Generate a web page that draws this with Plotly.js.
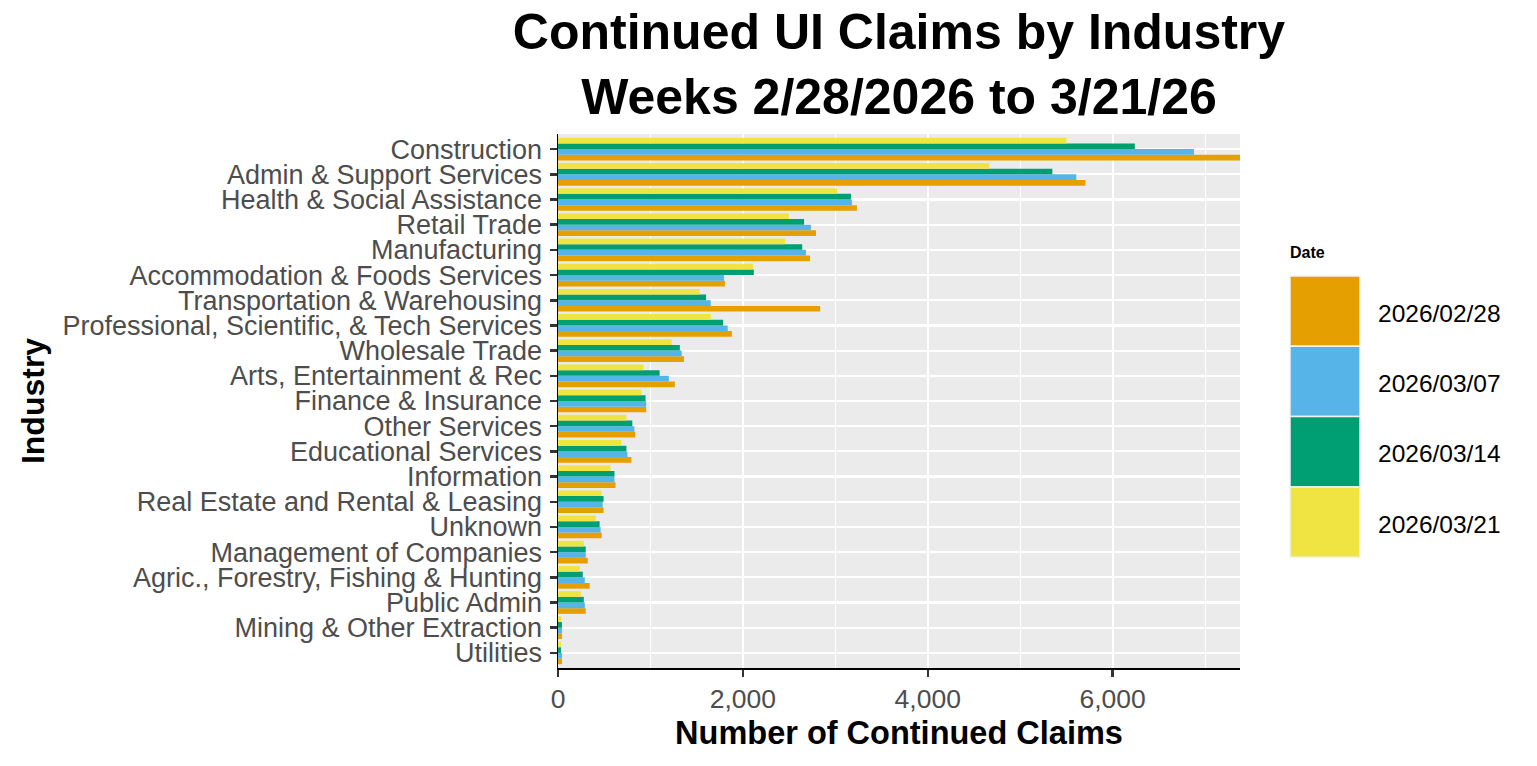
<!DOCTYPE html>
<html>
<head>
<meta charset="utf-8">
<script src="https://cdn.plot.ly/plotly-3.0.1.min.js"></script>
<style>
  html, body { margin: 0; padding: 0; background: #ffffff; }
  #chart { width: 1537px; height: 766px; }
</style>
</head>
<body>
<div id="chart"></div>
<script>
// Industries, listed top to bottom as in the chart
const industries = [
  "Construction",
  "Admin & Support Services",
  "Health & Social Assistance",
  "Retail Trade",
  "Manufacturing",
  "Accommodation & Foods Services",
  "Transportation & Warehousing",
  "Professional, Scientific, & Tech Services",
  "Wholesale Trade",
  "Arts, Entertainment & Rec",
  "Finance & Insurance",
  "Other Services",
  "Educational Services",
  "Information",
  "Real Estate and Rental & Leasing",
  "Unknown",
  "Management of Companies",
  "Agric., Forestry, Fishing & Hunting",
  "Public Admin",
  "Mining & Other Extraction",
  "Utilities"
];

const weeks = ["2026/02/28", "2026/03/07", "2026/03/14", "2026/03/21"];
const weekColors = ["#E69F00", "#56B4E9", "#009E73", "#F0E442"];

const claims_0228 = [7378, 5706, 3234, 2791, 2726, 1806, 2836, 1881, 1363, 1264, 954, 836, 794, 622, 493, 472, 322, 343, 300, 43, 43];
const claims_0307 = [6880, 5607, 3179, 2736, 2682, 1796, 1652, 1836, 1338, 1199, 954, 826, 751, 611, 483, 461, 300, 290, 290, 43, 43];
const claims_0314 = [6240, 5348, 3169, 2662, 2642, 2119, 1602, 1786, 1318, 1099, 947, 804, 740, 611, 493, 450, 300, 268, 279, 43, 32];
const claims_0321 = [5500, 4667, 3020, 2497, 2458, 2109, 1532, 1652, 1229, 925, 903, 740, 686, 568, 472, 407, 279, 236, 247, 32, 32];

const xTickVals = [0, 2000, 4000, 6000];

const seriesValues = [claims_0228, claims_0307, claims_0314, claims_0321];

const FONT = "Liberation Sans, Arial, sans-serif";

const traces = weeks.map((w, i) => ({
  type: "bar",
  orientation: "h",
  name: w,
  x: seriesValues[i],
  y: industries,
  marker: { color: weekColors[i], line: { width: 0 } },
  showlegend: false,
  hoverinfo: "x+y+name"
}));

const maxVal = Math.max(...seriesValues.flat());

// Custom ggplot-style legend (large square keys)
const plotTop = 134, plotBottom = 668;
const ph = plotBottom - plotTop;
const pw = 1240 - 558;
const keyX0 = (1290 - 558) / pw, keyX1 = (1360 - 558) / pw;
const keyH = 70.3 / ph;
const keyTop = (plotBottom - 276) / ph;
const shapes = [];
const annotations = [];
weeks.forEach((w, i) => {
  const y1 = keyTop - i * keyH;
  const y0 = y1 - keyH;
  shapes.push({
    type: "rect", xref: "paper", yref: "paper",
    x0: keyX0, x1: keyX1, y0: y0, y1: y1,
    fillcolor: weekColors[i], line: { color: "#F2F2F2", width: 1.5 }
  });
  annotations.push({
    xref: "paper", yref: "paper",
    x: (1376 - 558) / pw, y: (y0 + y1) / 2 - 2 / ph,
    xanchor: "left", yanchor: "middle",
    text: w, showarrow: false,
    font: { family: FONT, size: 24.5, color: "#000000" }
  });
});
annotations.push({
  xref: "paper", yref: "paper",
  x: keyX0 - 2 / pw, y: (plotBottom - 252) / ph,
  xanchor: "left", yanchor: "middle",
  text: "<b>Date</b>", showarrow: false,
  font: { family: FONT, size: 16, color: "#000000" }
});

const layout = {
  width: 1537,
  height: 766,
  margin: { l: 558, r: 297, t: 134, b: 98, pad: 0 },
  paper_bgcolor: "#FFFFFF",
  plot_bgcolor: "#EBEBEB",
  barmode: "group",
  bargap: 0.1,
  bargroupgap: 0,
  showlegend: false,
  title: {
    text: "<b>Continued UI Claims by Industry<br>Weeks 2/28/2026 to 3/21/26</b>",
    font: { family: FONT, size: 50, color: "#000000" },
    x: 0.5, xref: "paper", xanchor: "center",
    y: 0.936, yref: "container", yanchor: "top"
  },
  xaxis: {
    range: [0, maxVal],
    tickmode: "array",
    tickvals: xTickVals,
    tickformat: ",",
    tickfont: { family: FONT, size: 26.5, color: "#4D4D4D" },
    ticks: "outside", ticklen: 7, tickwidth: 2.5, tickcolor: "#333333",
    showline: true, linecolor: "#000000", linewidth: 1.5,
    showgrid: true, gridcolor: "#FFFFFF", gridwidth: 2.2,
    minor: { dtick: 1000, tick0: 0, showgrid: true, gridcolor: "#FFFFFF", gridwidth: 1.1, ticks: "" },
    zeroline: false,
    title: {
      text: "<b>Number of Continued Claims</b>",
      font: { family: FONT, size: 32.5, color: "#000000" },
      standoff: 8
    }
  },
  yaxis: {
    type: "category",
    categoryorder: "array",
    categoryarray: industries.slice().reverse(),
    range: [-0.6, industries.length - 0.4],
    autorange: false,
    tickmode: "array",
    tickvals: industries,
    ticktext: industries,
    tickfont: { family: FONT, size: 27, color: "#4D4D4D" },
    ticklabelstandoff: 2,
    ticks: "outside", ticklen: 7, tickwidth: 2.5, tickcolor: "#333333",
    showline: true, linecolor: "#000000", linewidth: 1.5,
    showgrid: true, gridcolor: "#FFFFFF", gridwidth: 2.2,
    zeroline: false,
    title: {
      text: "<b>Industry</b>",
      font: { family: FONT, size: 32, color: "#000000" },
      standoff: 8
    }
  },
  shapes: shapes,
  annotations: annotations
};

Plotly.newPlot("chart", traces, layout, { displayModeBar: false, staticPlot: true });
</script>
</body>
</html>
